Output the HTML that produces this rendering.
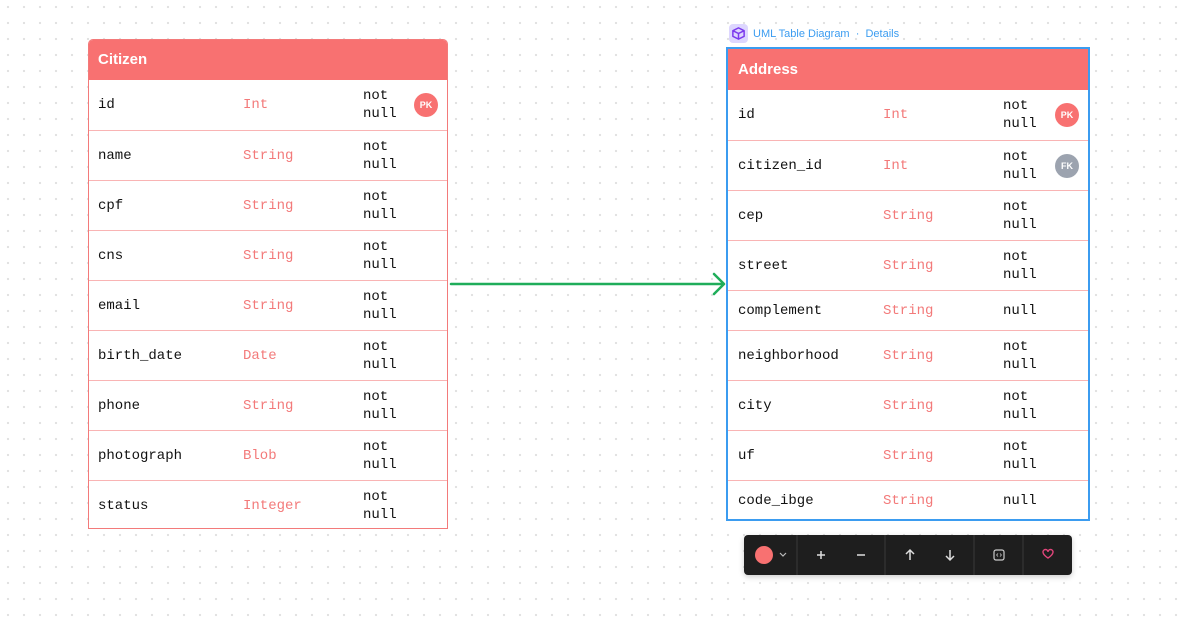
<!DOCTYPE html>
<html><head><meta charset="utf-8"><style>
body{margin:0;width:1186px;height:621px;overflow:hidden;background:#fff;
background-image:radial-gradient(circle,#e2e2e2 1.1px,transparent 1.3px);background-size:16px 16px;background-position:0px -1px;font-family:"Liberation Mono",monospace;position:relative}
.t{position:absolute;background:#fff;border:1px solid #f37a7a;box-sizing:border-box}
.h{height:40px;background:#f87171;color:#fff;font:bold 15px "Liberation Sans",sans-serif;line-height:40px;padding-left:9px}
.r{position:relative;height:50px;border-top:1px solid #f9b4b4;box-sizing:border-box;font-size:14px;color:#111}
.r.s{height:40px}
.r span{position:absolute;top:50%;transform:translateY(-50%);line-height:18px}
.n{left:9px}.ty{left:154px;color:#f37a7a}.nl{left:274px}
.a .n{left:10px}.a .ty{left:155px}.a .nl{left:275px}
.b{position:absolute;right:9px;top:50%;margin-top:-12px;width:24px;height:24px;border-radius:50%;background:#f87171;color:#fff;font:bold 9px "Liberation Sans",sans-serif;line-height:24px;text-align:center}
.b.g{background:#9ca3af}
</style></head><body>
<div class="t" style="left:88px;top:39px;width:360px;height:490px;border-radius:5px 5px 0 0;overflow:hidden">
<div class="h">Citizen</div>
<div class="r" style="border-top:none"><span class="n">id</span><span class="ty">Int</span><span class="nl">not<br>null</span><div class="b">PK</div></div>
<div class="r"><span class="n">name</span><span class="ty">String</span><span class="nl">not<br>null</span></div>
<div class="r"><span class="n">cpf</span><span class="ty">String</span><span class="nl">not<br>null</span></div>
<div class="r"><span class="n">cns</span><span class="ty">String</span><span class="nl">not<br>null</span></div>
<div class="r"><span class="n">email</span><span class="ty">String</span><span class="nl">not<br>null</span></div>
<div class="r"><span class="n">birth_date</span><span class="ty">Date</span><span class="nl">not<br>null</span></div>
<div class="r"><span class="n">phone</span><span class="ty">String</span><span class="nl">not<br>null</span></div>
<div class="r"><span class="n">photograph</span><span class="ty">Blob</span><span class="nl">not<br>null</span></div>
<div class="r"><span class="n">status</span><span class="ty">Integer</span><span class="nl">not<br>null</span></div>
</div>

<div style="position:absolute;left:729px;top:24px;width:19px;height:19px;border-radius:4px;background:#ddd6fe"></div>
<svg style="position:absolute;left:731px;top:26px" width="15" height="15" viewBox="0 0 16 16"><path d="M8 2 L14 5 L14 11 L8 14 L2 11 L2 5 Z M2 5 L8 8 L14 5 M8 8 L8 14" fill="none" stroke="#7c3aed" stroke-width="1.6" stroke-linejoin="round"/></svg>
<div style="position:absolute;left:753px;top:28px;font:11px 'Liberation Sans',sans-serif;color:#3b9cf0">UML Table Diagram &nbsp;·&nbsp; Details</div>

<div style="position:absolute;left:726px;top:47px;width:364px;height:474px;border:2px solid #3b9cf0;box-sizing:border-box"></div>
<div class="t a" style="left:728px;top:49px;width:360px;height:470px;border:none">
<div class="h" style="height:41px;line-height:41px;padding-left:10px">Address</div>
<div class="r" style="border-top:none"><span class="n">id</span><span class="ty">Int</span><span class="nl">not<br>null</span><div class="b">PK</div></div>
<div class="r"><span class="n">citizen_id</span><span class="ty">Int</span><span class="nl">not<br>null</span><div class="b g">FK</div></div>
<div class="r"><span class="n">cep</span><span class="ty">String</span><span class="nl">not<br>null</span></div>
<div class="r"><span class="n">street</span><span class="ty">String</span><span class="nl">not<br>null</span></div>
<div class="r s"><span class="n">complement</span><span class="ty">String</span><span class="nl">null</span></div>
<div class="r"><span class="n">neighborhood</span><span class="ty">String</span><span class="nl">not<br>null</span></div>
<div class="r"><span class="n">city</span><span class="ty">String</span><span class="nl">not<br>null</span></div>
<div class="r"><span class="n">uf</span><span class="ty">String</span><span class="nl">not<br>null</span></div>
<div class="r s"><span class="n">code_ibge</span><span class="ty">String</span><span class="nl">null</span></div>
</div>

<svg style="position:absolute;left:0;top:0" width="1186" height="621"><path d="M451 284 H724 M714 274 L724 284 L714 294" fill="none" stroke="#1fad5a" stroke-width="2.5" stroke-linecap="round" stroke-linejoin="round"/></svg>

<div style="position:absolute;left:744px;top:535px;width:328px;height:40px;background:#1e1e1e;border-radius:4px;box-shadow:0 2px 6px rgba(0,0,0,.2)"></div>
<svg style="position:absolute;left:744px;top:535px" width="328" height="40">
<circle cx="20" cy="20" r="9" fill="#f87171"/>
<path d="M36 18 l3 3 l3 -3" stroke="#bbb" fill="none" stroke-width="1.2"/>
<line x1="53" y1="0" x2="53" y2="40" stroke="#3a3a3a"/>
<line x1="141" y1="0" x2="141" y2="40" stroke="#3a3a3a"/>
<line x1="230" y1="0" x2="230" y2="40" stroke="#3a3a3a"/>
<line x1="279" y1="0" x2="279" y2="40" stroke="#3a3a3a"/>
<path d="M73 20 h8 M77 16 v8 M113 20 h8" stroke="#ddd" stroke-width="1.5"/>
<path d="M166 25 v-10 M162 19 l4 -4 l4 4 M206 15 v10 M202 21 l4 4 l4 -4" stroke="#ddd" stroke-width="1.5" fill="none"/>
<rect x="250" y="15" width="10" height="10" rx="2" stroke="#ccc" fill="none" stroke-width="1.2"/>
<path d="M252.5 20 l1.5 -1.5 M252.5 20 l1.5 1.5 M257.5 20 l-1.5 -1.5 M257.5 20 l-1.5 1.5" stroke="#ccc" stroke-width="0.8"/>
<path d="M299 17 a2.5 2.5 0 0 1 5 0 a2.5 2.5 0 0 1 5 0 c0 3 -5 6 -5 6 c0 0 -5 -3 -5 -6z" stroke="#e0457a" fill="none" stroke-width="1.4"/>
</svg>
</body></html>
